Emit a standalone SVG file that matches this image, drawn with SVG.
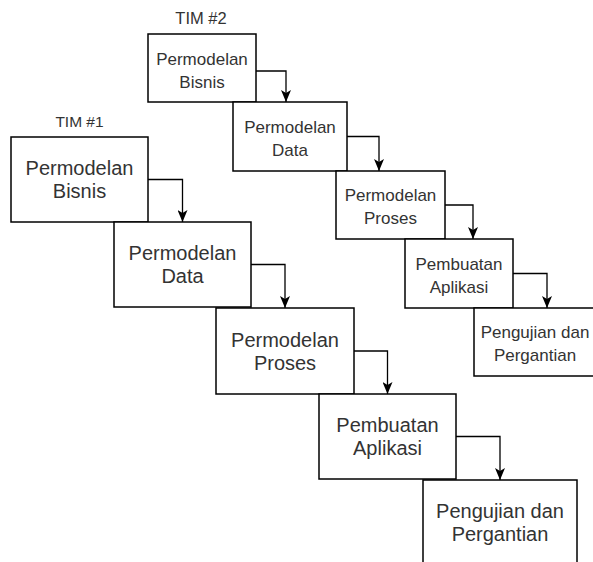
<svg xmlns="http://www.w3.org/2000/svg" width="593" height="562" viewBox="0 0 593 562">
<style>
.box{fill:#fff;stroke:#000;stroke-width:1.5}
.t1{font-family:"Liberation Sans",Arial,sans-serif;font-size:20px;fill:#333;text-anchor:middle}
.t2{font-family:"Liberation Sans",Arial,sans-serif;font-size:17px;fill:#333;text-anchor:middle}
.lbl{font-family:"Liberation Sans",Arial,sans-serif;font-size:15.5px;fill:#333;text-anchor:middle}
.edge{fill:none;stroke:#000;stroke-width:1.3}
</style>
<defs>
<marker id="arr" viewBox="0 0 12 10" refX="12" refY="5" markerWidth="12" markerHeight="10" markerUnits="userSpaceOnUse" orient="auto">
<path d="M0,0 L12,5 L0,10 L3,5 z" fill="#000"/>
</marker>
</defs>
<rect width="593" height="562" fill="#fff"/>
<text class="lbl" x="79.5" y="127">TIM #1</text>
<text class="lbl" x="201" y="24" style="font-size:16.5px">TIM #2</text>

<g id="t1-bisnis"><rect class="box" x="11" y="137" width="137" height="85"/><text class="t1" x="79.5" y="175">Permodelan</text><text class="t1" x="79.5" y="198">Bisnis</text></g>
<g id="t1-data"><rect class="box" x="114" y="222" width="137" height="85"/><text class="t1" x="182.5" y="260">Permodelan</text><text class="t1" x="182.5" y="283">Data</text></g>
<g id="t1-proses"><rect class="box" x="216" y="308" width="138" height="86"/><text class="t1" x="285" y="346.5">Permodelan</text><text class="t1" x="285" y="369.5">Proses</text></g>
<g id="t1-aplikasi"><rect class="box" x="319" y="394" width="137" height="85"/><text class="t1" x="387.5" y="432">Pembuatan</text><text class="t1" x="387.5" y="455">Aplikasi</text></g>
<g id="t1-uji"><rect class="box" x="423" y="480" width="154" height="86"/><text class="t1" x="500" y="517.5">Pengujian dan</text><text class="t1" x="500" y="541">Pergantian</text></g>

<g id="t2-bisnis"><rect class="box" x="148" y="34" width="108" height="68"/><text class="t2" x="202" y="65">Permodelan</text><text class="t2" x="202" y="87.5">Bisnis</text></g>
<g id="t2-data"><rect class="box" x="233" y="102" width="114" height="69"/><text class="t2" x="290" y="132.5">Permodelan</text><text class="t2" x="290" y="155.5">Data</text></g>
<g id="t2-proses"><rect class="box" x="336" y="171" width="109" height="68"/><text class="t2" x="390.5" y="201">Permodelan</text><text class="t2" x="390.5" y="224">Proses</text></g>
<g id="t2-aplikasi"><rect class="box" x="405" y="239" width="108" height="69"/><text class="t2" x="459" y="269.5">Pembuatan</text><text class="t2" x="459" y="292.5">Aplikasi</text></g>
<g id="t2-uji"><rect class="box" x="474" y="308" width="124" height="68"/><text class="t2" x="535" y="338">Pengujian dan</text><text class="t2" x="535" y="361">Pergantian</text></g>

<g id="connectors">
<path class="edge" marker-end="url(#arr)" d="M148,179.5 H182.5 V222"/>
<path class="edge" marker-end="url(#arr)" d="M251,264.5 H285 V308"/>
<path class="edge" marker-end="url(#arr)" d="M354,351 H387.5 V394"/>
<path class="edge" marker-end="url(#arr)" d="M456,436.5 H500 V480"/>
<path class="edge" marker-end="url(#arr)" d="M256,71 H286 V102"/>
<path class="edge" marker-end="url(#arr)" d="M347,136.5 H379 V171"/>
<path class="edge" marker-end="url(#arr)" d="M445,205 H473 V239"/>
<path class="edge" marker-end="url(#arr)" d="M513,273.5 H547 V308"/>
</g>
</svg>
